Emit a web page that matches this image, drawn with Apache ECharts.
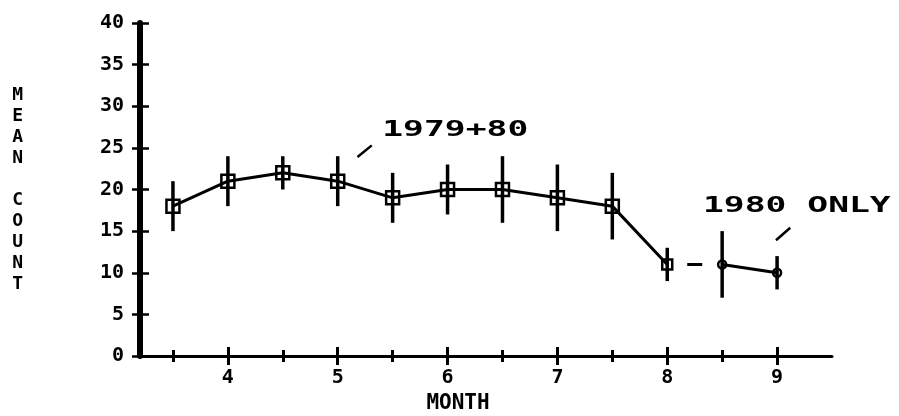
<!DOCTYPE html>
<html><head><meta charset="utf-8">
<script src="https://cdn.jsdelivr.net/npm/echarts@6/dist/echarts.min.js"></script>
<style>html,body{margin:0;padding:0;background:#fff}#c{width:899px;height:416px}</style>
</head><body><div id="c"></div>
<script>
// ---- data ----
const months7980 = [3.5, 4, 4.5, 5, 5.5, 6, 6.5, 7, 7.5, 8];
const mean7980   = [18, 21, 22, 21, 19, 20, 20, 19, 18, 11];
const low7980    = [15, 18, 20, 18, 16, 17, 16, 15, 14, 9];
const high7980   = [21, 24, 24, 24, 22, 23, 24, 23, 22, 13];
const months80   = [8.5, 9];
const mean80     = [11, 10];
const low80      = [7, 8];
const high80     = [15, 12];
const yTickValues = [0, 5, 10, 15, 20, 25, 30, 35, 40];
const xLabelMonths = [4, 5, 6, 7, 8, 9];
const xHalfMonths = [3.5, 4.5, 5.5, 6.5, 7.5, 8.5];
const labelTexts = ['1979+80', '1980 ONLY'];
const labelAnchors = [[6.07, 27.1], [9.18, 17.9]];
const leaderLines = [[[5.18, 23.9], [5.31, 25.3]], [[8.99, 13.9], [9.12, 15.4]]];

const FONT = '"DejaVu Sans Mono", "Liberation Mono", monospace';
const chart = echarts.init(document.getElementById('c'), null, {renderer: 'canvas'});

const xBase = {type: 'value', min: 3.2, max: 9.5, position: 'bottom', gridIndex: 0,
  splitLine: {show: false}};
function xAx(extra) { return Object.assign({}, xBase, extra); }

const pts7980 = months7980.map((m, i) => [m, mean7980[i]]);
const pts80 = months80.map((m, i) => [m, mean80[i]]);
const err = months7980.map((m, i) => [m, low7980[i], high7980[i]])
  .concat(months80.map((m, i) => [m, low80[i], high80[i]]));

const option = {
  animation: false,
  backgroundColor: '#fff',
  grid: {left: 140, right: 67, top: 23, bottom: 60, containLabel: false, outerBoundsMode: 'none'},
  xAxis: [
    xAx({
      axisLine: {show: true, lineStyle: {color: '#000', width: 3}},
      axisTick: {show: true, inside: false, length: 9, lineStyle: {color: '#000', width: 3}, customValues: xLabelMonths},
      axisLabel: {show: true, customValues: xLabelMonths, margin: 12, color: '#000',
        fontFamily: FONT, fontWeight: 'bold', fontSize: 20},
      name: 'MONTH', nameLocation: 'middle', nameGap: 36,
      nameTextStyle: {color: '#000', fontFamily: FONT, fontWeight: 'bold', fontSize: 21, padding: [0, 56, 0, 0]}
    }),
    xAx({axisLine: {show: false}, axisLabel: {show: false},
      axisTick: {show: true, inside: true, length: 9, lineStyle: {color: '#000', width: 3}, customValues: xLabelMonths}}),
    xAx({axisLine: {show: false}, axisLabel: {show: false},
      axisTick: {show: true, inside: false, length: 6, lineStyle: {color: '#000', width: 3}, customValues: xHalfMonths}}),
    xAx({axisLine: {show: false}, axisLabel: {show: false},
      axisTick: {show: true, inside: true, length: 6, lineStyle: {color: '#000', width: 3}, customValues: xHalfMonths}})
  ],
  yAxis: [
    {type: 'value', min: 0, max: 40, interval: 5, position: 'left', splitLine: {show: false},
      axisLine: {show: true, lineStyle: {color: '#000', width: 6}},
      axisTick: {show: true, inside: false, length: 8, lineStyle: {color: '#000', width: 2.5}},
      axisLabel: {show: true, margin: 16, color: '#000', fontFamily: FONT, fontWeight: 'bold', fontSize: 20,
        customValues: yTickValues},
      name: 'M\nE\nA\nN\n\nC\nO\nU\nN\nT', nameLocation: 'middle', nameRotate: 0, nameGap: 117,
      nameTextStyle: {color: '#000', fontFamily: FONT, fontWeight: 'bold', fontSize: 18, lineHeight: 21}
    },
    {type: 'value', min: 0, max: 40, interval: 5, position: 'left', splitLine: {show: false},
      axisLine: {show: false}, axisLabel: {show: false},
      axisTick: {show: true, inside: true, length: 9, lineStyle: {color: '#000', width: 2.5}}}
  ],
  series: [
    {type: 'custom', xAxisIndex: 0, yAxisIndex: 0, data: err, encode: {x: 0, y: [1, 2]}, z: 3,
      renderItem: function (params, api) {
        const x = api.value(0);
        const a = api.coord([x, api.value(1)]);
        const b = api.coord([x, api.value(2)]);
        return {type: 'line', shape: {x1: a[0], y1: a[1], x2: b[0], y2: b[1]},
          style: {stroke: '#000', lineWidth: 3.5}};
      }},
    {type: 'line', xAxisIndex: 0, yAxisIndex: 0, data: pts7980, z: 4,
      symbol: 'rect', symbolSize: function (v, p) { return p.dataIndex === 9 ? 10 : 13; },
      lineStyle: {color: '#000', width: 3},
      itemStyle: {color: 'rgba(0,0,0,0)', borderColor: '#000', borderWidth: 2.5}},
    {type: 'line', xAxisIndex: 0, yAxisIndex: 0, data: [pts7980[pts7980.length - 1], pts80[0]], z: 4,
      symbol: 'none', lineStyle: {color: '#000', width: 3, type: [0, 20, 15, 300]}},
    {type: 'line', xAxisIndex: 0, yAxisIndex: 0, data: pts80, z: 4,
      symbol: 'circle', symbolSize: 8,
      lineStyle: {color: '#000', width: 3},
      itemStyle: {color: 'rgba(0,0,0,0)', borderColor: '#000', borderWidth: 2.5}},
    {type: 'line', xAxisIndex: 0, yAxisIndex: 0, data: leaderLines[0], symbol: 'none',
      lineStyle: {color: '#000', width: 2.5}},
    {type: 'line', xAxisIndex: 0, yAxisIndex: 0, data: leaderLines[1], symbol: 'none',
      lineStyle: {color: '#000', width: 2.5}}
  ]
};
chart.setOption(option);

const g = labelTexts.map((t, i) => {
  const p = chart.convertToPixel({xAxisIndex: 0, yAxisIndex: 0}, labelAnchors[i]);
  return {type: 'text', x: p[0], y: p[1], scaleX: 1.65, scaleY: 1,
    style: {text: t, x: 0, y: 0, align: 'center', verticalAlign: 'middle',
      fill: '#000', font: 'bold 21px ' + FONT}};
});
chart.setOption({graphic: g});
</script>
</body></html>
